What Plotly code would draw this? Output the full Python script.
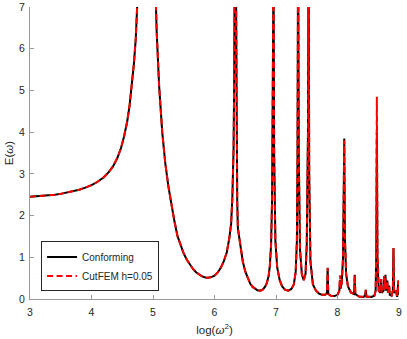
import plotly.graph_objects as go

# x values: log(omega^2)
log_w2 = [
    3.00, 3.10, 3.20, 3.30, 3.40, 3.50, 3.60, 3.70, 3.80, 3.90,
    4.00, 4.10, 4.20, 4.28, 4.35, 4.42, 4.48, 4.53, 4.58, 4.62,
    4.66, 4.69, 4.72, 4.745, 4.77, 4.80, 4.85, 4.95, 5.00, 5.03,
    5.06, 5.10, 5.15, 5.20, 5.25, 5.30, 5.35, 5.40, 5.45, 5.50,
    5.55, 5.60, 5.65, 5.70, 5.75, 5.80, 5.85, 5.90, 5.95, 6.00,
    6.05, 6.10, 6.15, 6.20, 6.24, 6.27, 6.29, 6.30, 6.31, 6.32,
    6.33, 6.34, 6.35, 6.36, 6.37, 6.38, 6.40, 6.43, 6.46, 6.50,
    6.54, 6.58, 6.62, 6.66, 6.70, 6.74, 6.78, 6.82, 6.85, 6.88,
    6.90, 6.92, 6.935, 6.945, 6.952, 6.96, 6.97, 6.99, 7.02, 7.06,
    7.10, 7.15, 7.20, 7.25, 7.29, 7.32, 7.34, 7.35, 7.36, 7.37,
    7.39, 7.42, 7.45, 7.48, 7.50, 7.52, 7.53, 7.54, 7.56, 7.60,
    7.65, 7.70, 7.75, 7.80, 7.83, 7.84, 7.85, 7.90, 7.95, 8.00,
    8.03, 8.04, 8.05, 8.07, 8.09, 8.10, 8.11, 8.12, 8.14, 8.17,
    8.22, 8.27, 8.28, 8.29, 8.35, 8.42, 8.45, 8.46, 8.47, 8.55,
    8.60, 8.62, 8.63, 8.64, 8.65, 8.67, 8.70, 8.71, 8.72, 8.75,
    8.76, 8.77, 8.78, 8.79, 8.81, 8.82, 8.84, 8.85, 8.88, 8.90,
    8.91, 8.92, 8.95, 8.97, 8.99, 9.00,
]

E_conforming = [
    2.45, 2.46, 2.47, 2.48, 2.50, 2.52, 2.55, 2.58, 2.62, 2.67,
    2.73, 2.81, 2.92, 3.04, 3.18, 3.38, 3.62, 3.90, 4.25, 4.65,
    5.15, 5.65, 6.25, 6.90, 7.60, 8.60, 11.0, 14.0, 11.0, 8.00,
    6.40, 5.10, 4.00, 3.25, 2.70, 2.25, 1.85, 1.50, 1.27, 1.09,
    0.94, 0.82, 0.72, 0.64, 0.58, 0.54, 0.515, 0.51, 0.525, 0.56,
    0.63, 0.74, 0.90, 1.12, 1.45, 1.80, 2.40, 2.80, 3.60, 5.20,
    9.00, 12.0, 7.50, 3.50, 2.30, 1.70, 1.50, 1.15, 0.90, 0.66,
    0.49, 0.37, 0.29, 0.24, 0.21, 0.20, 0.22, 0.29, 0.38, 0.55,
    0.80, 1.30, 2.30, 4.50, 8.00, 8.00, 3.50, 1.40, 0.75, 0.45,
    0.30, 0.22, 0.20, 0.24, 0.35, 0.65, 1.40, 3.50, 9.00, 3.50,
    1.20, 0.60, 0.45, 0.60, 1.30, 4.00, 9.00, 3.00, 0.90, 0.35,
    0.20, 0.13, 0.10, 0.10, 0.15, 0.75, 0.12, 0.07, 0.07, 0.10,
    0.20, 0.45, 0.25, 0.40, 1.00, 2.00, 3.85, 1.50, 0.60, 0.30,
    0.15, 0.12, 0.58, 0.12, 0.06, 0.05, 0.08, 0.22, 0.06, 0.05,
    0.08, 0.20, 1.00, 4.00, 1.00, 0.20, 0.15, 0.48, 0.15, 0.20,
    0.55, 0.30, 0.58, 0.20, 0.44, 0.15, 0.32, 0.10, 0.08, 0.20,
    1.22, 0.15, 0.20, 0.05, 0.44, 0.10,
]

E_cutfem = [
    2.45, 2.46, 2.47, 2.48, 2.50, 2.52, 2.55, 2.58, 2.62, 2.67,
    2.73, 2.81, 2.92, 3.04, 3.18, 3.38, 3.62, 3.90, 4.25, 4.65,
    5.15, 5.65, 6.25, 6.90, 7.60, 8.60, 11.0, 14.0, 11.0, 8.00,
    6.40, 5.10, 4.00, 3.25, 2.70, 2.25, 1.85, 1.50, 1.27, 1.09,
    0.94, 0.82, 0.72, 0.64, 0.58, 0.54, 0.515, 0.51, 0.525, 0.56,
    0.63, 0.74, 0.90, 1.12, 1.45, 1.80, 2.40, 2.80, 3.60, 5.20,
    9.00, 12.0, 7.50, 3.50, 2.30, 1.70, 1.50, 1.15, 0.90, 0.66,
    0.49, 0.37, 0.29, 0.24, 0.21, 0.20, 0.22, 0.29, 0.38, 0.55,
    0.80, 1.30, 2.30, 4.50, 8.00, 8.00, 3.50, 1.40, 0.75, 0.45,
    0.30, 0.22, 0.20, 0.24, 0.35, 0.65, 1.40, 3.50, 9.00, 3.50,
    1.20, 0.60, 0.45, 0.60, 1.30, 4.00, 9.00, 3.00, 0.90, 0.35,
    0.20, 0.13, 0.10, 0.10, 0.15, 0.74, 0.12, 0.07, 0.07, 0.10,
    0.20, 0.57, 0.25, 0.40, 1.00, 2.00, 3.80, 1.50, 0.60, 0.30,
    0.15, 0.12, 0.58, 0.12, 0.06, 0.05, 0.08, 0.22, 0.06, 0.05,
    0.08, 0.20, 1.20, 4.85, 1.20, 0.20, 0.15, 0.48, 0.15, 0.20,
    0.55, 0.30, 0.50, 0.20, 0.44, 0.15, 0.32, 0.10, 0.08, 0.20,
    1.22, 0.15, 0.20, 0.05, 0.44, 0.10,
]

x_ticks = [3, 4, 5, 6, 7, 8, 9]
y_ticks = [0, 1, 2, 3, 4, 5, 6, 7]

fig = go.Figure()
fig.add_trace(go.Scatter(
    x=log_w2, y=E_conforming, mode="lines", name="Conforming",
    line=dict(color="#000000", width=2),
))
fig.add_trace(go.Scatter(
    x=log_w2, y=E_cutfem, mode="lines", name="CutFEM h=0.05",
    line=dict(color="#ff0000", width=2, dash="6px,3.5px"),
))

axis_col = "#9a9a9a"
font_col = "#262626"
fig.update_layout(
    width=407, height=339,
    margin=dict(l=30, r=8, t=7, b=40, autoexpand=False),
    paper_bgcolor="white", plot_bgcolor="white",
    font=dict(family="Liberation Sans, Arial, sans-serif", size=10.5, color=font_col),
    showlegend=True,
    legend=dict(
        x=0.03, y=0.026, xanchor="left", yanchor="bottom",
        bgcolor="white", bordercolor="#262626", borderwidth=1,
        font=dict(size=10, color=font_col), tracegroupgap=0,
        entrywidth=82, entrywidthmode="pixels",
    ),
    xaxis=dict(
        range=[3, 9], tickvals=x_ticks, ticktext=[str(v) for v in x_ticks],
        showgrid=False, zeroline=False, showline=True, linecolor=axis_col, linewidth=1,
        ticks="inside", ticklen=4, tickcolor=axis_col, ticklabelstandoff=3,
        automargin=False,
        title=dict(text="log(<i>ω</i><sup>2</sup>)", standoff=9, font=dict(size=11.5)),
    ),
    yaxis=dict(
        range=[0, 7], tickvals=y_ticks, ticktext=[str(v) for v in y_ticks],
        showgrid=False, zeroline=False, showline=True, linecolor=axis_col, linewidth=1,
        ticks="inside", ticklen=4, tickcolor=axis_col, ticklabelstandoff=2,
        automargin=False,
        title=dict(text="E(<i>ω</i>)", standoff=3, font=dict(size=11.5)),
    ),
)

fig.write_html(
    "out.html",
    config={"displayModeBar": False},
    post_script="document.body.style.margin='0';document.body.style.padding='0';",
)
